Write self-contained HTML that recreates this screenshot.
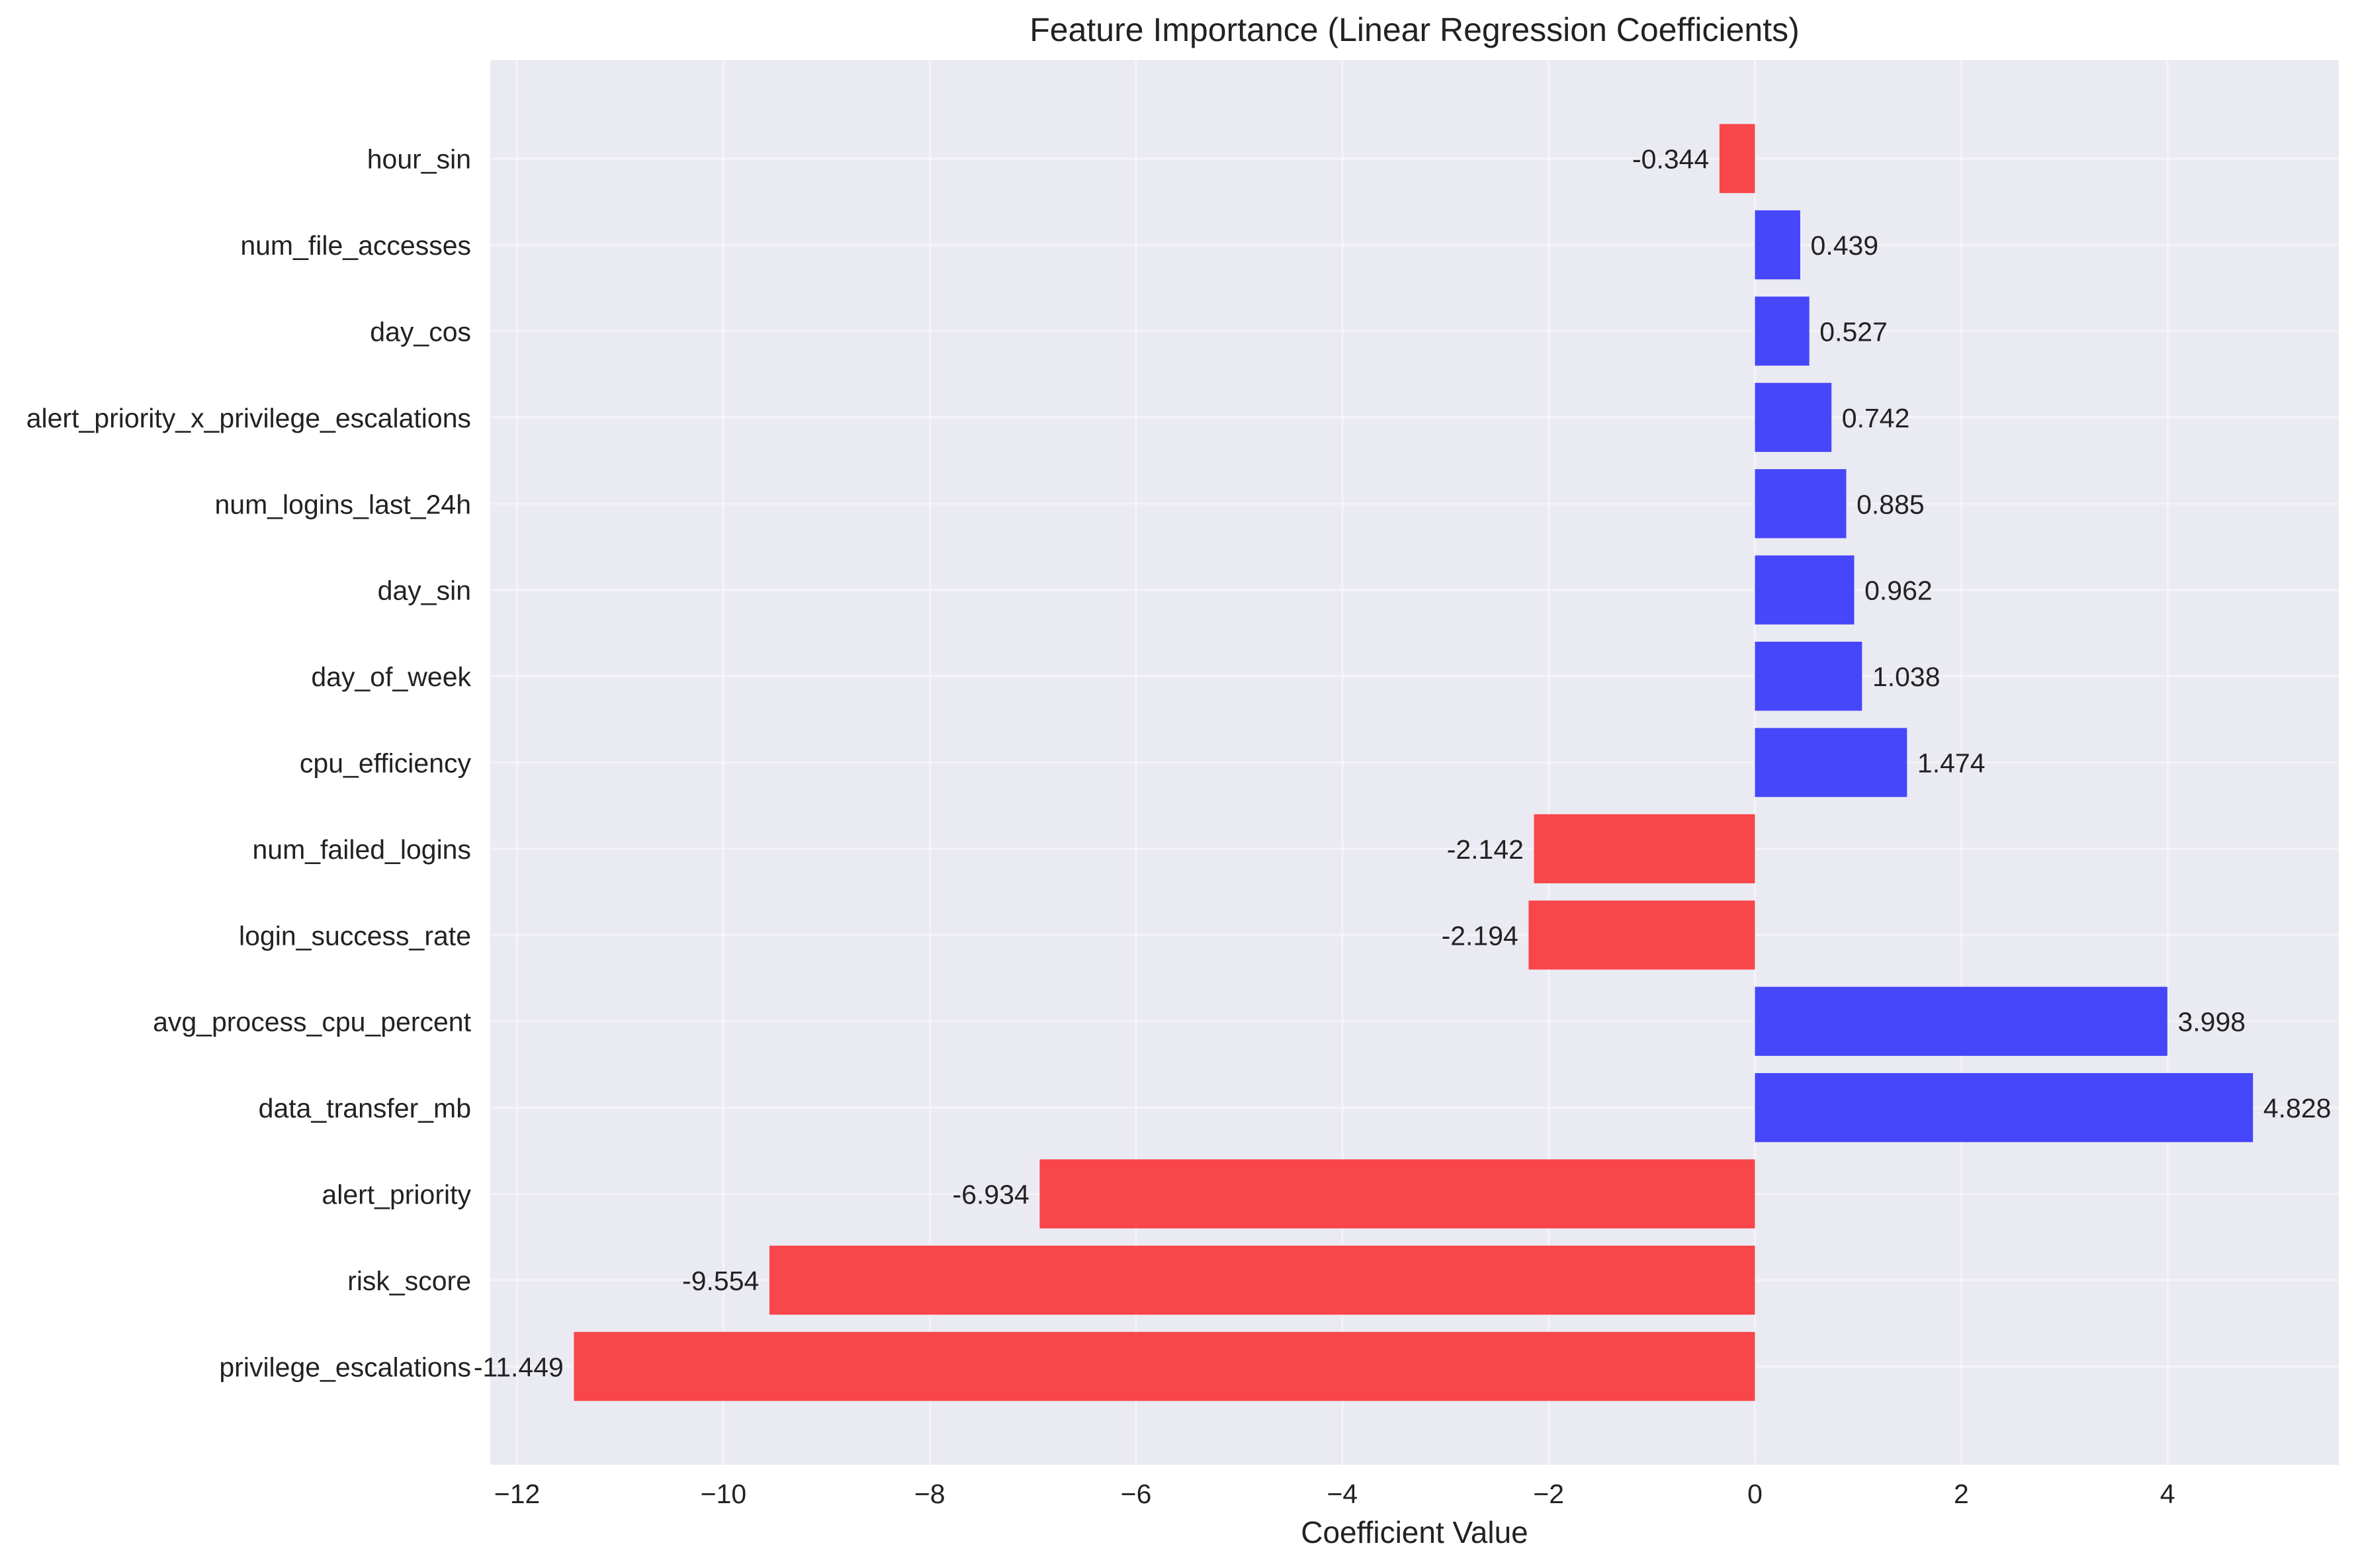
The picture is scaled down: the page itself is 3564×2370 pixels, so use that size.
<!DOCTYPE html>
<html><head><meta charset="utf-8"><style>
html,body{margin:0;padding:0;background:#fff;}
svg{display:block;font-family:"Liberation Sans",sans-serif;}
</style></head><body>
<svg id="chart" width="3564" height="2370" viewBox="0 0 3564 2370">
<rect x="741" y="91" width="2794" height="2123" fill="#eaeaf2"/>
<g id="grid"></g><g id="bars"></g><g id="ylabels"></g><g id="xticks"></g><g id="vals"></g>
<text x="2138" y="62" text-anchor="middle" font-size="50" fill="#222">Feature Importance (Linear Regression Coefficients)</text>
<text x="2138" y="2332" text-anchor="middle" font-size="46" fill="#222">Coefficient Value</text>
</svg>
<script>
const features = ["hour_sin","num_file_accesses","day_cos","alert_priority_x_privilege_escalations","num_logins_last_24h","day_sin","day_of_week","cpu_efficiency","num_failed_logins","login_success_rate","avg_process_cpu_percent","data_transfer_mb","alert_priority","risk_score","privilege_escalations"];
const coefficients = [-0.344,0.439,0.527,0.742,0.885,0.962,1.038,1.474,-2.142,-2.194,3.998,4.828,-6.934,-9.554,-11.449];
const xTicks = [-12,-10,-8,-6,-4,-2,0,2,4];
const xMin=-12.26, xMax=5.66, L=741, R=3535, T=91, B=2214;
const x = v => L + (v - xMin) / (xMax - xMin) * (R - L);
const n = features.length;
const yMin=-1.14, yMax=n-1+1.14;
const y = i => T + (i - yMin) / (yMax - yMin) * (B - T);
const bandH = (B - T) / (yMax - yMin);
const NS="http://www.w3.org/2000/svg";
function mk(tag, attrs, parent, txt){const e=document.createElementNS(NS,tag);for(const k in attrs)e.setAttribute(k,attrs[k]);if(txt!==undefined)e.textContent=txt;document.getElementById(parent).appendChild(e);return e;}
xTicks.forEach(t=>{
  const g=mk('line',{x1:x(t),x2:x(t),y1:T,y2:B,stroke:'#ffffff','stroke-width':3,opacity:0.45},'grid');
  
  
  const lb=mk('text',{x:x(t),y:B+58,'text-anchor':'middle','font-size':41,fill:'#222'},'xticks',t<0?'\u2212'+Math.abs(t):String(t));
  
  
});
features.forEach((f,i)=>{
  const g=mk('line',{x1:L,x2:R,y1:y(i),y2:y(i),stroke:'#ffffff','stroke-width':3,opacity:0.45},'grid');
  
  
  const v=coefficients[i];
  const x0=Math.min(x(0),x(v)), w=Math.abs(x(v)-x(0));
  const b=mk('rect',{x:x0,y:y(i)-0.4*bandH,width:w,height:0.8*bandH,fill:v<0?'#f8464a':'#4646fb'},'bars');
  
  
  const lb=mk('text',{x:712,y:y(i)+15,'text-anchor':'end','font-size':41,fill:'#222'},'ylabels',f);
  
  
  const vx = v<0 ? x(v-0.1) : x(v+0.1);
  const vl=mk('text',{x:vx,y:y(i)+15,'text-anchor':v<0?'end':'start','font-size':41,fill:'#222'},'vals',v.toFixed(3));
  
  
});
</script>
</body></html>
